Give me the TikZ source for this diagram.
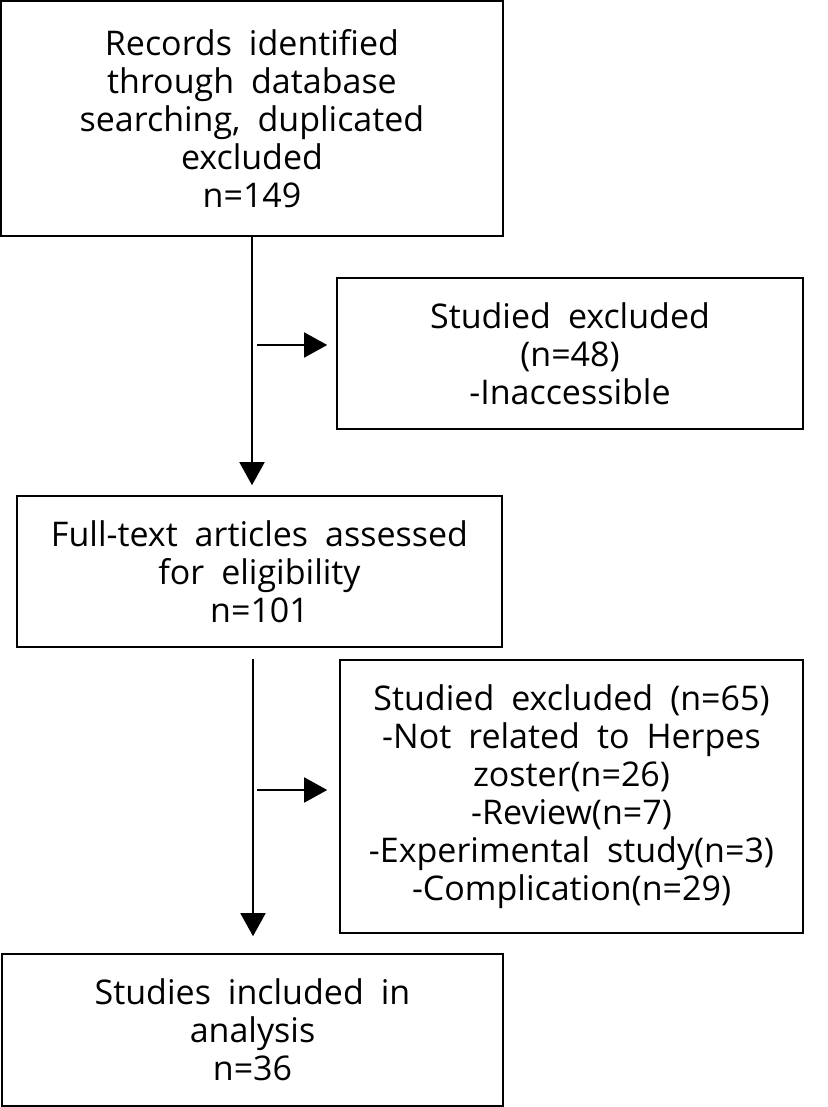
\documentclass[tikz,border=0pt]{standalone}
\usepackage{fontspec}
\setmainfont{Open Sans}
\usetikzlibrary{arrows.meta}
\newcommand\wsp{\fontsize{34}{38}\selectfont\spaceskip=0.5em\relax}
\begin{document}
\begin{tikzpicture}[x=1pt,y=-1pt,
  box/.style={draw=black,line width=1.6pt,inner sep=0pt,align=center,font=\wsp},
  arr/.style={line width=1.6pt,-{Triangle[length=23pt,width=25pt]}}]
\useasboundingbox (0,0) rectangle (827,1107);
\node[box,minimum width=502pt,minimum height=235pt] (b1) at (252,118.5)
  {Records identified\\through database\\searching, duplicated\\excluded\\n=149};
\node[box,minimum width=466pt,minimum height=151pt] (b2) at (570,353.5)
  {Studied excluded\\(n=48)\\-Inaccessible};
\node[box,minimum width=485pt,minimum height=151pt] (b3) at (259.5,571.5)
  {Full-text articles assessed\\for eligibility\\n=101};
\node[box,minimum width=463pt,minimum height=273pt] (b4) at (571.5,796.5)
  {Studied excluded (n=65)\\-Not related to Herpes\\zoster(n=26)\\-Review(n=7)\\-Experimental study(n=3)\\-Complication(n=29)};
\node[box,minimum width=501pt,minimum height=152pt] (b5) at (252.5,1030)
  {Studies included in\\analysis\\n=36};
\coordinate (v1) at (252,236);
\coordinate (h1) at (257,345);
\coordinate (v2) at (253,659);
\coordinate (h2) at (257,790);
\draw[arr,shorten >=10pt] (v1) -- (v1 |- b3.north);
\draw[arr,shorten >=9pt] (h1) -- (h1 -| b2.west);
\draw[arr,shorten >=17pt] (v2) -- (v2 |- b5.north);
\draw[arr,shorten >=12pt] (h2) -- (h2 -| b4.west);
\end{tikzpicture}
\end{document}
